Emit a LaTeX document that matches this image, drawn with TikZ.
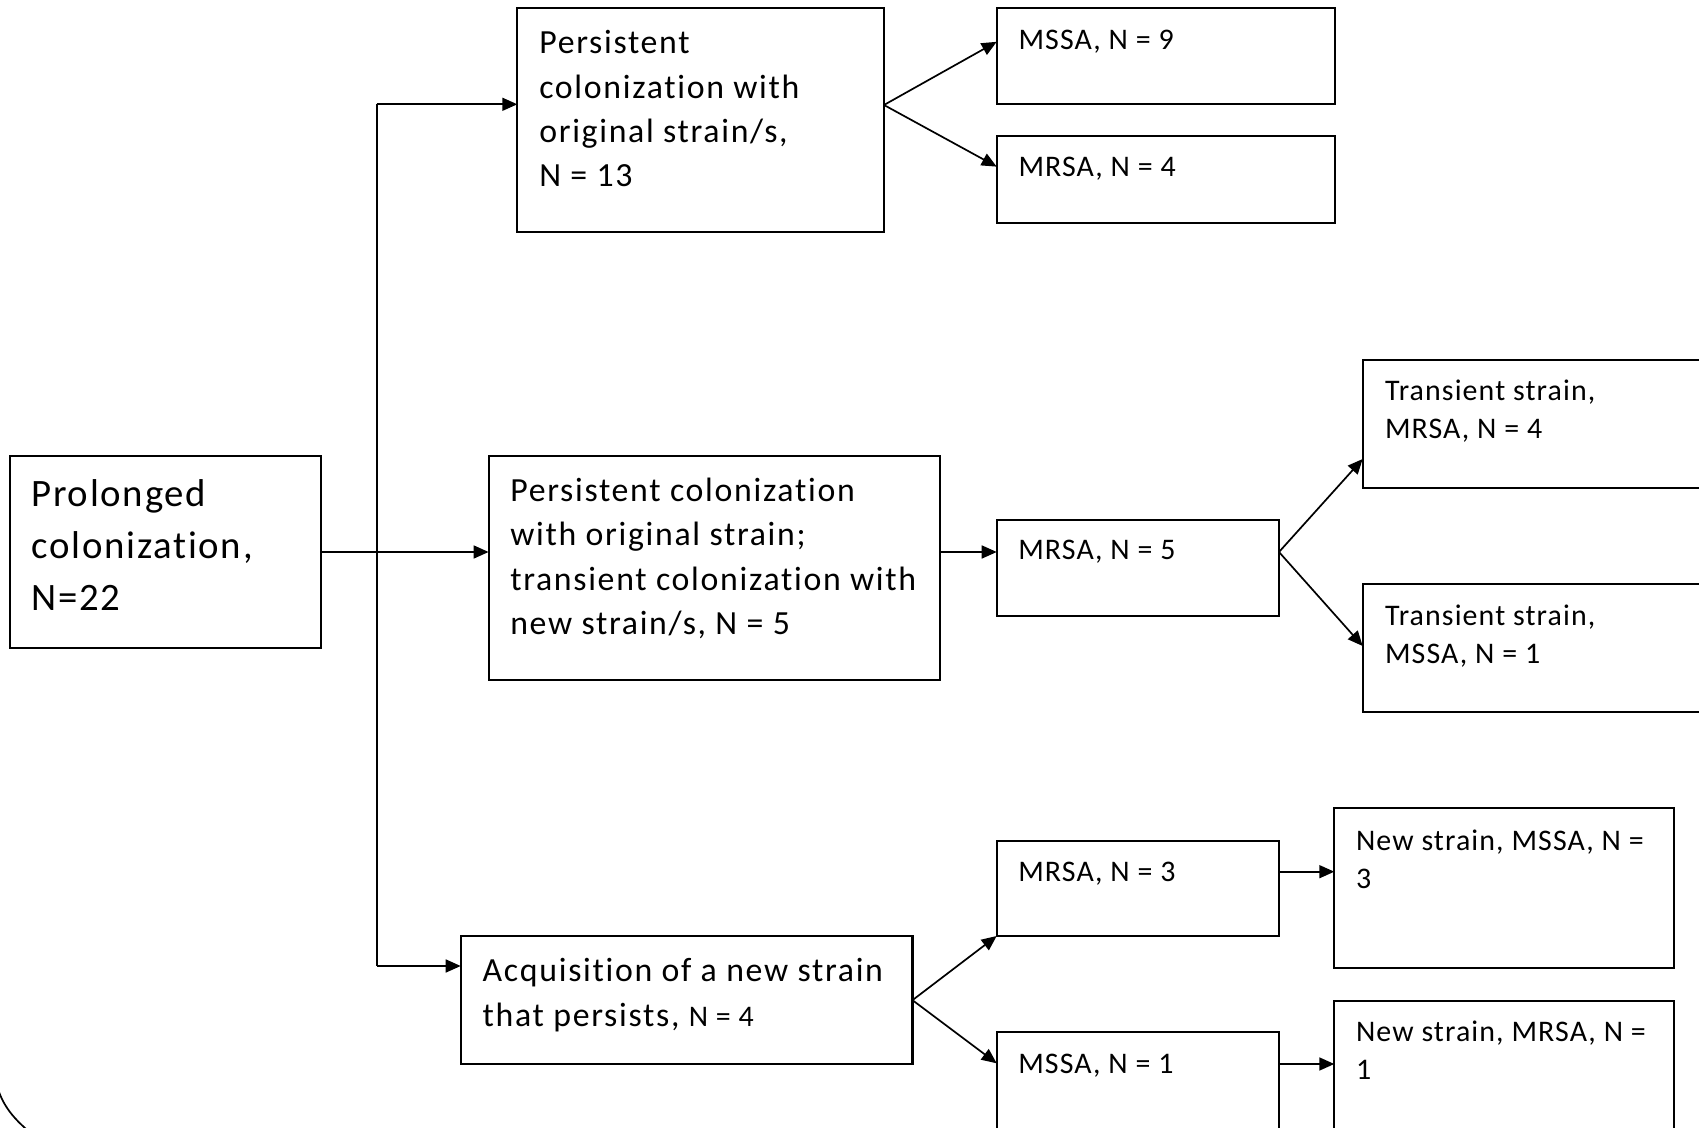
\documentclass[tikz,border=0pt]{standalone}
\usepackage{fontspec}
\setmainfont{Carlito}[Ligatures=NoCommon]
\usetikzlibrary{arrows.meta,calc,fit}
\newcommand\fsmall{\fontsize{14.95pt}{19pt}\selectfont\addfontfeature{LetterSpace=3.7}}
\newcommand\fmed{\fontsize{16.9pt}{22.15pt}\selectfont\addfontfeature{LetterSpace=5}}
\newcommand\flarge{\fontsize{19.4pt}{25.8pt}\selectfont\addfontfeature{LetterSpace=4.5}}
\newcommand\lns[1]{\begin{tabular}[t]{@{}l@{}}#1\end{tabular}}
\begin{document}
\begin{tikzpicture}[x=0.5pt,y=-0.5pt,
  box/.style={draw, line width=1.05pt, inner sep=0pt, outer sep=0pt},
  arr/.style={line width=0.85pt, -{Triangle[length=7.5pt,width=6.5pt]}},
  conn/.style={line width=0.85pt},
  txt/.style={inner sep=0pt, outer sep=0pt, anchor=base west}]
\useasboundingbox (0,0) rectangle (1699,1128);
\clip (0,0) rectangle (1699,1128);

% boxes
\node[box, fit={(9.75,456) (320.7,648)}] (P) {};
\node[box, fit={(517.3,8.3) (884,232.3)}] (A) {};
\node[box, fit={(996.7,8.3) (1335,104.3)}] (A1) {};
\node[box, fit={(996.7,136) (1335,222.7)}] (A2) {};
\node[box, fit={(488.6,456) (940.3,680)}] (B) {};
\node[box, fit={(996.7,520) (1279,616)}] (B1) {};
\node[box, fit={(1362.7,360) (1720,488.3)}] (B1a) {};
\node[box, fit={(1362.7,584.3) (1720,712.3)}] (B1b) {};
\node[box, fit={(460.7,936) (912.5,1064.3)}] (C) {};
\node[box, fit={(996.7,840.7) (1279,936)}] (C1) {};
\node[box, fit={(996.7,1032.3) (1279,1160)}] (C2) {};
\node[box, fit={(1334.3,808.3) (1674,968.3)}] (C1a) {};
\node[box, fit={(1334.3,1000.7) (1674,1160)}] (C2a) {};

% texts
\node[txt, font=\flarge] (tP) at ($(P.north west)+(21.7,51)$) {\lns{Prolonged\\colonization,\\N=22}};
\node[txt, font=\fmed] (tA) at ($(A.north west)+(22,45.7)$) {\lns{Persistent\\colonization with\\original strain/s,\\N = 13}};
\node[txt, font=\fsmall] (tA1) at ($(A1.north west)+(21.8,41)$) {MSSA, N = 9};
\node[txt, font=\fsmall] (tA2) at ($(A2.north west)+(21.8,40.7)$) {MRSA, N = 4};
\node[txt, font=\fmed] (tB) at ($(B.north west)+(21.7,45.6)$) {\lns{Persistent colonization\\with original strain;\\transient colonization with\\new strain/s, N = 5}};
\node[txt, font=\fsmall] (tB1) at ($(B1.north west)+(21.6,40)$) {MRSA, N = 5};
\node[txt, font=\fsmall] (tB1a) at ($(B1a.north west)+(22.3,41)$) {\lns{Transient strain,\\MRSA, N = 4}};
\node[txt, font=\fsmall] (tB1b) at ($(B1b.north west)+(22.3,40.7)$) {\lns{Transient strain,\\MSSA, N = 1}};
\node[txt, font=\fmed] (tC) at ($(C.north west)+(22,45.7)$) {\lns{Acquisition of a new strain\\that persists, {\fsmall N = 4}}};
\node[txt, font=\fsmall] (tC1) at ($(C1.north west)+(21.6,40.3)$) {MRSA, N = 3};
\node[txt, font=\fsmall] (tC2) at ($(C2.north west)+(21.6,41)$) {MSSA, N = 1};
\node[txt, font=\fsmall] (tC1a) at ($(C1a.north west)+(21.7,41.7)$) {\lns{New strain, MSSA, N =\\3}};
\node[txt, font=\fsmall] (tC2a) at ($(C2a.north west)+(21.7,41)$) {\lns{New strain, MRSA, N =\\1}};

% trunk connectors
\coordinate (T1) at (376.7,104.3);
\coordinate (T3) at (376.7,966);
\draw[conn] (T1) -- (T3);
\draw[arr] (P.east) -- (P.east -| B.west);
\draw[arr] (T1) -- (T1 -| A.west);
\draw[arr] (T3) -- (T3 -| C.west);

% top fan
\coordinate (Ao) at ($(A.east)+(0,-15.3)$);
\draw[arr] (Ao) -- ($(A1.west)+(0,-14.5)$);
\draw[arr] (Ao) -- ($(A2.west)+(0,-12.7)$);

% middle
\coordinate (Bo) at (B.east |- P.east);
\draw[arr] (Bo) -- (B1.west |- P.east);
\coordinate (B1o) at (B1.east |- P.east);
\draw[arr] (B1o) -- ($(B1a.north west)+(0,99)$);
\draw[arr] (B1o) -- ($(B1b.north west)+(0,61.7)$);

% bottom
\draw[arr] (C.east) -- (C1.south west);
\draw[arr] (C.east) -- ($(C2.north west)+(0,31)$);
\coordinate (c1o) at ($(C1.north east)+(0,31)$);
\draw[arr] (c1o) -- (c1o -| C1a.west);
\coordinate (c2o) at ($(C2.north east)+(0,31.7)$);
\draw[arr] (c2o) -- (c2o -| C2a.west);

% corner curve at bottom left
\draw[conn] (-4,1082) .. controls (1,1102) and (10,1116) .. (32,1134);
\end{tikzpicture}
\end{document}
